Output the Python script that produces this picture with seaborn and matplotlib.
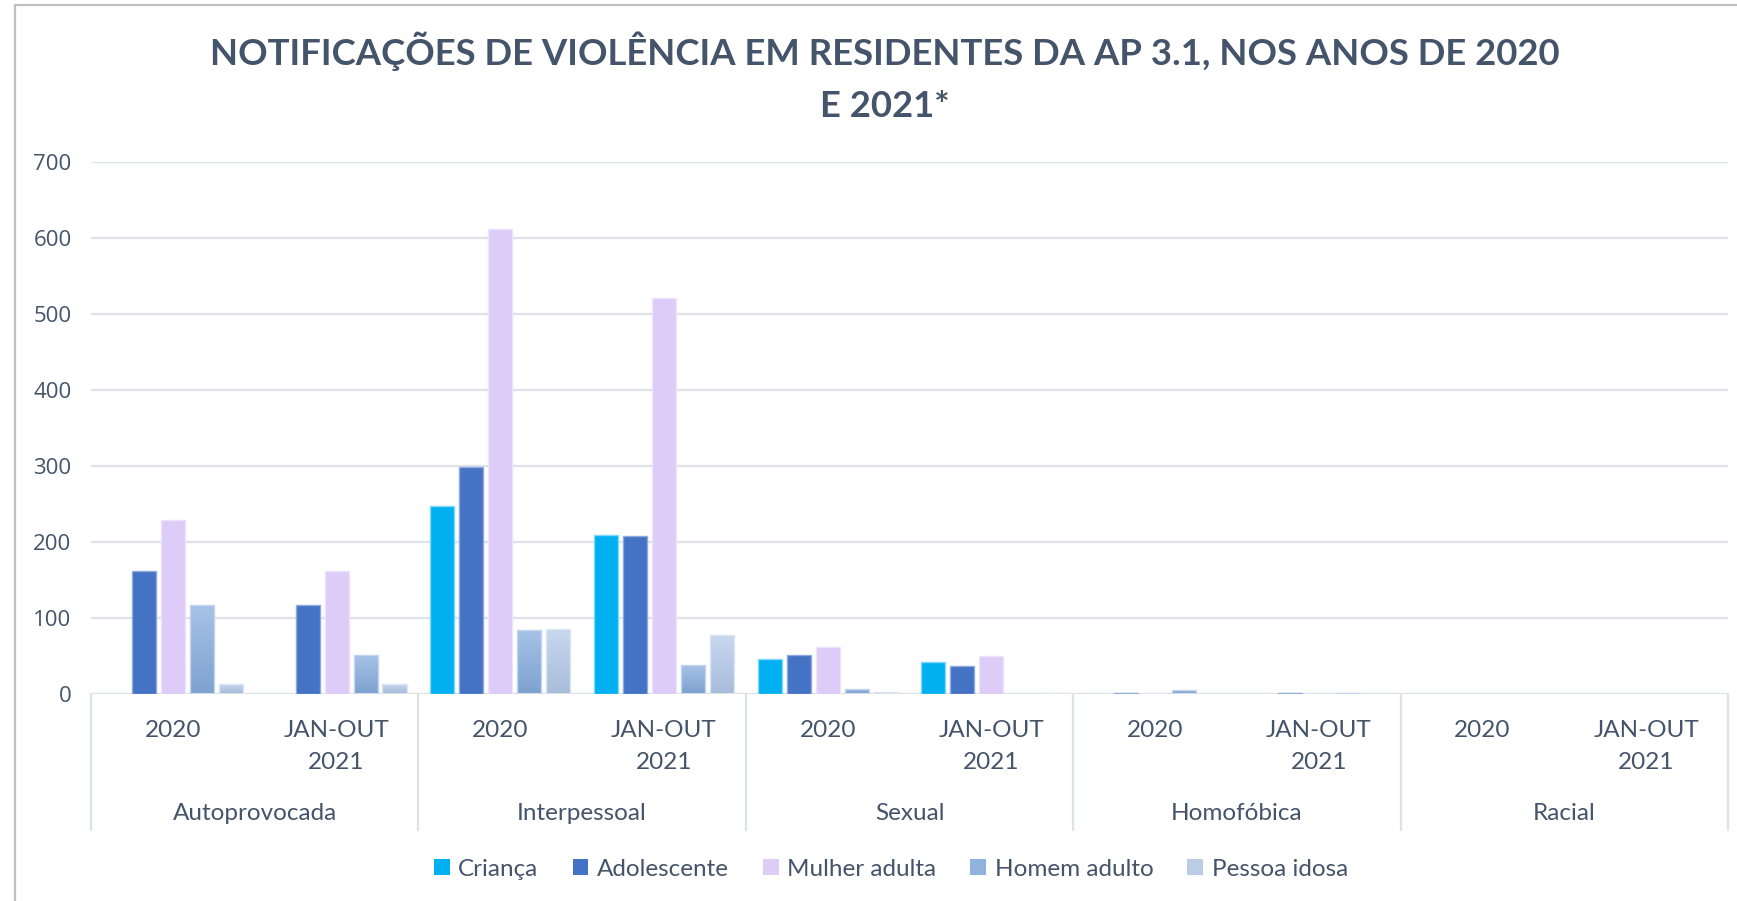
import numpy as np
import pandas as pd
import matplotlib
matplotlib.use("Agg")
import matplotlib.pyplot as plt
from matplotlib.patches import Patch
from matplotlib.lines import Line2D
from matplotlib.colors import LinearSegmentedColormap
import matplotlib.transforms as mtransforms
import seaborn as sns

# ---- data ----
tipos = ["Autoprovocada", "Interpessoal", "Sexual", "Homofóbica", "Racial"]
periodos = ["2020", "JAN-OUT\n2021"]
grupos = ["Criança", "Adolescente", "Mulher adulta", "Homem adulto", "Pessoa idosa"]

# values per (tipo, periodo), in the order of `grupos`
crianca      = [0,   0,   247, 209, 46, 41, 0, 0, 0, 0]
adolescente  = [161, 116, 298, 207, 51, 36, 1, 1, 0, 0]
mulher       = [228, 161, 611, 521, 61, 50, 1, 0, 0, 0]
homem        = [117, 51,  84,  37,  6,  0,  5, 1, 0, 0]
idosa        = [13,  12,  85,  77,  2,  1,  0, 0, 0, 0]

titulo = "NOTIFICAÇÕES DE VIOLÊNCIA EM RESIDENTES DA AP 3.1, NOS ANOS DE 2020\nE 2021*"
yticks = [0, 100, 200, 300, 400, 500, 600, 700]

# ---- styling ----
TXT = "#44546A"
GRID = "#DDE1E8"
cores = {
    "Criança": "#00B0F0",
    "Adolescente": "#4472C4",
    "Mulher adulta": "#DDCBF8",
    "Homem adulto": "#92B2DE",
    "Pessoa idosa": "#BACCE6",
}
bordas = {
    "Criança": "#7FD8F7",
    "Adolescente": "#8FAADC",
    "Mulher adulta": "#EDE3FC",
    "Homem adulto": "#C3D5EE",
    "Pessoa idosa": "#DCE6F3",
}
gradientes = {
    "Homem adulto": ("#A7C3E7", "#7EA2D0"),
    "Pessoa idosa": ("#C8D9EF", "#A8BCDB"),
}

# long table
chaves = [f"{t}|{p}" for t in tipos for p in periodos]
series = [crianca, adolescente, mulher, homem, idosa]
rows = []
for g, vals in zip(grupos, series):
    for k, v in zip(chaves, vals):
        rows.append({"chave": k, "grupo": g, "valor": v})
df = pd.DataFrame(rows)

sns.set_theme(style="white")
plt.rcParams["font.family"] = ["Lato", "DejaVu Sans"]

W, H = 1737, 901
fig = plt.figure(figsize=(W / 100, H / 100), dpi=100)
ax = fig.add_axes([91 / W, 1 - 693.5 / H, (1728 - 91) / W, (693.5 - 161.7) / H])

sns.barplot(data=df, x="chave", y="valor", hue="grupo", order=chaves,
            hue_order=grupos, palette=cores, width=0.885, gap=0.17,
            ax=ax, legend=False, saturation=1)

# per-series outlines, gradients for the adult-male / elderly series
for cont, g in zip(ax.containers, grupos):
    for bar in cont.patches:
        h = bar.get_height()
        if h <= 0:
            bar.set_visible(False)
            continue
        bar.set_edgecolor(bordas[g])
        bar.set_linewidth(1.0)
        if g in gradientes:
            top, bot = gradientes[g]
            cmap = LinearSegmentedColormap.from_list(g, [bot, top])
            x0, y0 = bar.get_x(), bar.get_y()
            grad = np.linspace(0, 1, 256).reshape(-1, 1)
            im = ax.imshow(grad, cmap=cmap, origin="lower", aspect="auto",
                           extent=[x0, x0 + bar.get_width(), y0, y0 + h],
                           zorder=bar.get_zorder() - 0.01, interpolation="bicubic")
            im.set_clip_path(bar)
            bar.set_facecolor("none")

ax.set_xlim(-0.5, len(chaves) - 0.5)
ax.set_ylim(0, 700)
ax.set_yticks(yticks)
ax.set_yticklabels([str(v) for v in yticks], fontsize=16, color=TXT,
                   family=["Open Sans", "DejaVu Sans"])
ax.tick_params(axis="y", length=0, pad=14)
ax.set_xticks([])
ax.set_xlabel("")
ax.set_ylabel("")
for s in ax.spines.values():
    s.set_visible(False)
ax.yaxis.grid(True, color=GRID, linewidth=1.6)
ax.set_axisbelow(True)

# category axis line and group separators
trans = mtransforms.blended_transform_factory(ax.transData, ax.transAxes)
ax.axhline(0, color=GRID, linewidth=2.0, zorder=0.5)
sep_bottom = -(830 - 693.5) / (693.5 - 161.7)
for i in range(len(tipos) + 1):
    xs = -0.5 + 2 * i
    ax.add_line(Line2D([xs, xs], [0, sep_bottom], transform=trans,
                       color=GRID, linewidth=1.6, clip_on=False))

ah = 693.5 - 161.7
for i, k in enumerate(chaves):
    per = k.split("|")[1]
    ax.text(i, -(720 - 693.5) / ah, per, transform=trans, ha="center", va="top",
            fontsize=17.5, color=TXT, linespacing=1.62)
for j, t in enumerate(tipos):
    ax.text(2 * j + 0.5, -(813 - 693.5) / ah, t, transform=trans, ha="center",
            va="center", fontsize=17.5, color=TXT)

# title
fig.text(885 / W, 1 - 77 / H, titulo, ha="center", va="center", fontsize=26.3,
         fontweight="bold", color=TXT, linespacing=1.7)

# legend
handles = [Patch(facecolor=cores[g], edgecolor="none") for g in grupos]
fig.legend(handles, grupos, loc="center", bbox_to_anchor=(891 / W, 1 - 869 / H),
           ncol=5, frameon=False, fontsize=17.5, labelcolor=TXT,
           handlelength=0.65, handleheight=0.65, handletextpad=0.35,
           columnspacing=1.4)

# outer frame (top and left edges)
fig.add_artist(Line2D([14.5 / W, 1], [1 - 5 / H, 1 - 5 / H], transform=fig.transFigure,
                      color="#BFBFBF", linewidth=1.6))
fig.add_artist(Line2D([14.5 / W, 14.5 / W], [0, 1 - 5 / H], transform=fig.transFigure,
                      color="#BFBFBF", linewidth=1.6))

fig.savefig("out.png", dpi=100, facecolor="white")
